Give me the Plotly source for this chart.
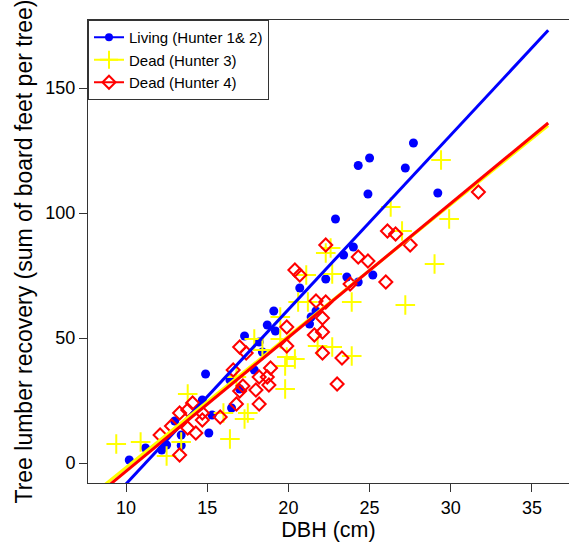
import plotly.graph_objects as go

# Living (Hunter 1 & 2)
living_dbh = [10.2, 11.2, 12.2, 12.5, 13.0, 13.4, 13.4, 14.7, 14.9, 15.1, 15.3, 16.4, 16.5, 17.0,
              17.3, 17.9, 18.2, 18.4, 18.7, 19.1, 19.2, 20.7, 21.3, 21.4, 21.7, 22.3, 22.9, 23.4,
              23.6, 24.0, 24.3, 24.3, 24.9, 25.0, 25.2, 27.2, 27.7, 29.2]
living_bf = [1.2, 6.0, 5.2, 7.2, 16.8, 11.2, 7.0, 25.2, 35.6, 12.0, 19.2, 33.2, 22.0, 29.6,
             50.8, 37.2, 48.4, 44.4, 55.2, 60.8, 52.8, 70.0, 55.6, 58.4, 60.8, 73.6, 97.6, 83.2,
             74.4, 86.4, 72.4, 119.0, 107.6, 122.0, 75.2, 118.0, 128.0, 108.0]

# Dead (Hunter 3)
dead3_dbh = [9.4, 10.9, 12.5, 13.4, 13.8, 16.0, 16.4, 16.8, 17.3, 17.5, 17.9, 18.4, 19.5, 19.5,
             19.8, 19.8, 19.9, 20.4, 20.6, 21.1, 21.2, 21.8, 22.3, 22.6, 22.7, 22.7, 23.9, 23.9,
             26.3, 27.0, 27.2, 29.0, 29.4, 29.9]
dead3_bf = [7.6, 8.4, 2.8, 8.4, 27.6, 20.0, 9.6, 34.4, 17.6, 20.0, 49.6, 45.2, 49.6, 58.4,
            29.6, 38.8, 42.4, 41.6, 64.4, 75.2, 64.4, 46.8, 84.0, 86.0, 75.6, 46.4, 64.4, 42.8,
            102.4, 92.8, 63.2, 79.6, 121.2, 97.6]

# Dead (Hunter 4)
dead4_dbh = [12.1, 12.8, 13.3, 13.3, 13.8, 13.8, 14.1, 14.3, 14.7, 14.7, 15.8, 16.6, 16.8, 17.0,
             17.0, 17.2, 17.4, 18.0, 18.2, 18.2, 18.7, 18.8, 18.9, 19.9, 19.9, 20.4, 20.7, 21.6,
             21.7, 22.1, 22.1, 22.1, 22.3, 22.3, 23.0, 23.3, 23.8, 24.3, 24.9, 26.0, 26.1, 26.6,
             27.5, 31.7]
dead4_bf = [11.2, 14.8, 20.0, 3.2, 21.2, 14.0, 24.0, 12.0, 20.0, 17.2, 18.4, 37.2, 23.6, 46.4,
            28.8, 30.8, 44.0, 29.2, 34.4, 23.6, 34.4, 31.2, 38.0, 54.4, 46.8, 77.2, 75.2, 51.2,
            64.8, 58.0, 52.4, 44.0, 87.2, 64.4, 31.6, 42.0, 71.6, 82.4, 80.8, 72.4, 92.8, 91.6,
            87.2, 108.4]

# fitted line coefficients (intercept, slope)
fit_living = (-78.2, 6.98)
fit_dead3 = (-54.4, 5.26)
fit_dead4 = (-56.9, 5.358)
fit_x = [8.0, 36.0]

names = ["Living (Hunter 1& 2)", "Dead (Hunter 3)", "Dead (Hunter 4)"]
colors = ["#0000ff", "#ffff00", "#ff0000"]

fig = go.Figure()

fig.add_trace(go.Scatter(x=living_dbh, y=living_bf, mode="markers", showlegend=False,
                         marker=dict(symbol="circle", size=9, color=colors[0])))
fig.add_trace(go.Scatter(x=dead3_dbh, y=dead3_bf, mode="markers", showlegend=False,
                         marker=dict(symbol="cross-thin-open", size=14, color=colors[1],
                                     line=dict(width=2, color=colors[1]))))
fig.add_trace(go.Scatter(x=dead4_dbh, y=dead4_bf, mode="markers", showlegend=False,
                         marker=dict(symbol="diamond-open", size=10, color=colors[2],
                                     line=dict(width=2, color=colors[2]))))

for (b0, b1), c in zip([fit_living, fit_dead3, fit_dead4], colors):
    fig.add_trace(go.Scatter(x=fit_x, y=[b0 + b1 * v for v in fit_x], mode="lines",
                             showlegend=False, line=dict(color=c, width=3)))

# legend entries
leg_markers = [dict(symbol="circle", size=8, color=colors[0]),
               dict(symbol="cross-thin-open", size=13, color=colors[1], line=dict(width=2, color=colors[1])),
               dict(symbol="diamond-open", size=10, color=colors[2], line=dict(width=2, color=colors[2]))]
for n, c, m in zip(names, colors, leg_markers):
    fig.add_trace(go.Scatter(x=[None], y=[None], mode="lines+markers", name=n,
                             line=dict(color=c, width=2), marker=m))

fig.update_layout(
    width=569, height=545,
    margin=dict(l=88, r=0, t=20, b=62),
    paper_bgcolor="white", plot_bgcolor="white",
    font=dict(family="Liberation Sans, Arial, sans-serif", color="black"),
    showlegend=True,
    legend=dict(x=0, y=1, xanchor="left", yanchor="top", bgcolor="white",
                bordercolor="#333333", borderwidth=1, font=dict(size=15),
                itemwidth=30, tracegroupgap=0),
    xaxis=dict(range=[7.66, 37.28], tickvals=[10, 15, 20, 25, 30, 35],
               showgrid=False, zeroline=False, showline=True, linecolor="#333333",
               linewidth=1, mirror=True, ticks="outside", ticklen=8, tickcolor="#333333",
               tickfont=dict(size=18),
               title=dict(text="DBH (cm)", font=dict(size=21.5), standoff=3)),
    yaxis=dict(range=[-8, 177.2], tickvals=[0, 50, 100, 150],
               showgrid=False, zeroline=False, showline=True, linecolor="#333333",
               linewidth=1, ticks="outside", ticklen=8, tickcolor="#333333",
               tickfont=dict(size=18),
               title=dict(text="Tree lumber recovery (sum of board feet per tree)",
                          font=dict(size=23), standoff=6)),
)

fig.write_html("out.html")
